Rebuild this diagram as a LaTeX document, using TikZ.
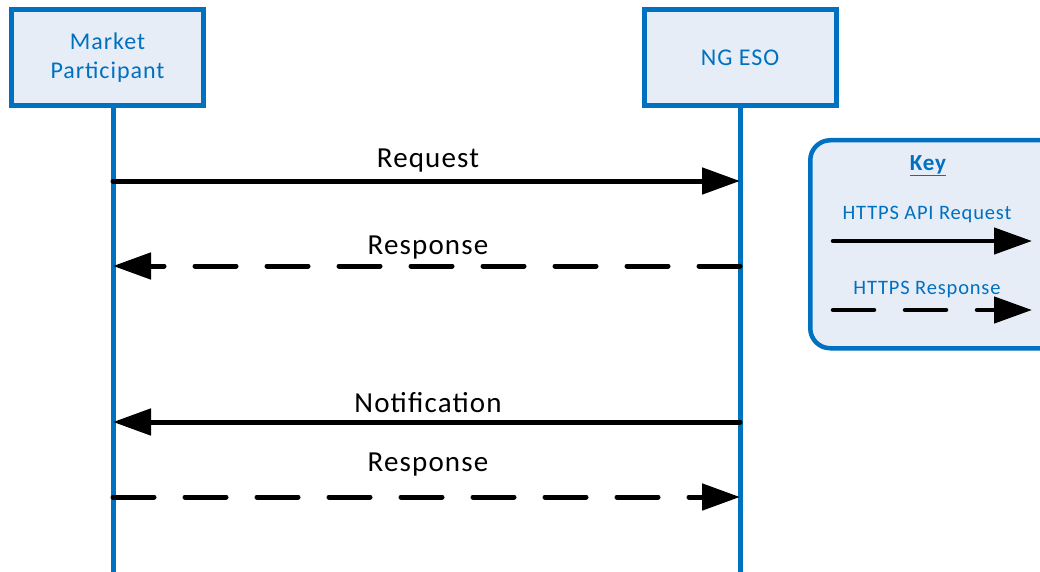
\documentclass[tikz,border=0pt]{standalone}
\usepackage{fontspec}
\setmainfont[LetterSpace=4]{Carlito}
\usetikzlibrary{arrows.meta}
\definecolor{eblue}{HTML}{0070C0}
\definecolor{efill}{HTML}{E7EDF7}
\begin{document}
\begin{tikzpicture}[x=1pt,y=-1pt,
  actor/.style={draw=eblue,fill=efill,line width=5pt,minimum width=192pt,minimum height=96pt,
     align=center,text=eblue,font=\fontsize{24}{29}\selectfont,inner sep=0pt},
  lifeline/.style={draw=eblue,line width=5pt},
  msg/.style={line width=5pt,line cap=round,-{Triangle[length=38pt,width=26pt]}},
  resp/.style={msg,dash pattern=on 41pt off 31pt},
  lbl/.style={font=\fontsize{29}{34}\selectfont,inner sep=0pt},
  keylbl/.style={font=\fontsize{20.5}{24}\selectfont,text=eblue,inner sep=0pt},
]
\useasboundingbox (0,0) rectangle (1040,572);
\clip (0,0) rectangle (1040,572);
% actors
\node[actor] (mp) at (107.5,57.5) {Market\\Participant};
\node[actor] (ng) at (740,57.5) {NG ESO};
% lifelines
\coordinate (mpb) at (113,572);
\coordinate (ngb) at (740,572);
\coordinate (mpt) at (113,105);
\draw[lifeline] (mpt) -- (mpb);
\draw[lifeline] (ng.south) -- (ngb);
% message points
\coordinate (m1a) at (113,181); \coordinate (m1b) at (740,181);
\coordinate (m2a) at (740,266); \coordinate (m2b) at (113,266);
\coordinate (m3a) at (740,422); \coordinate (m3b) at (113,422);
\coordinate (m4a) at (113,497); \coordinate (m4b) at (740,497);
\draw[msg] (m1a) -- (m1b);
\draw[resp] (m2a) -- (m2b);
\draw[msg] (m3a) -- (m3b);
\draw[resp] (m4a) -- (m4b);
\node[lbl] (l1) at (428,161) {Request};
\node[lbl] (l2) at (428,248) {Response};
\node[lbl] (l3) at (428,403) {Notification};
\node[lbl] (l4) at (428,465) {Response};
% key
\node[draw=eblue,fill=efill,line width=4.5pt,rounded corners=20pt,minimum width=270pt,minimum height=208pt,anchor=north west] (key) at (808,138) {};
\node[keylbl,font=\fontsize{23}{27}\selectfont\bfseries] (kt) at (928,166) {\underline{Key}};
\node[keylbl] (k1) at (927,214) {HTTPS API Request};
\node[keylbl] (k2) at (927,289) {HTTPS Response};
\coordinate (k1a) at (833,241); \coordinate (k1b) at (1032,241);
\coordinate (k2a) at (833,310); \coordinate (k2b) at (1032,310);
\draw[msg,line width=4.5pt] (k1a) -- (k1b);
\draw[resp,line width=4.5pt] (k2a) -- (k2b);
\end{tikzpicture}
\end{document}
